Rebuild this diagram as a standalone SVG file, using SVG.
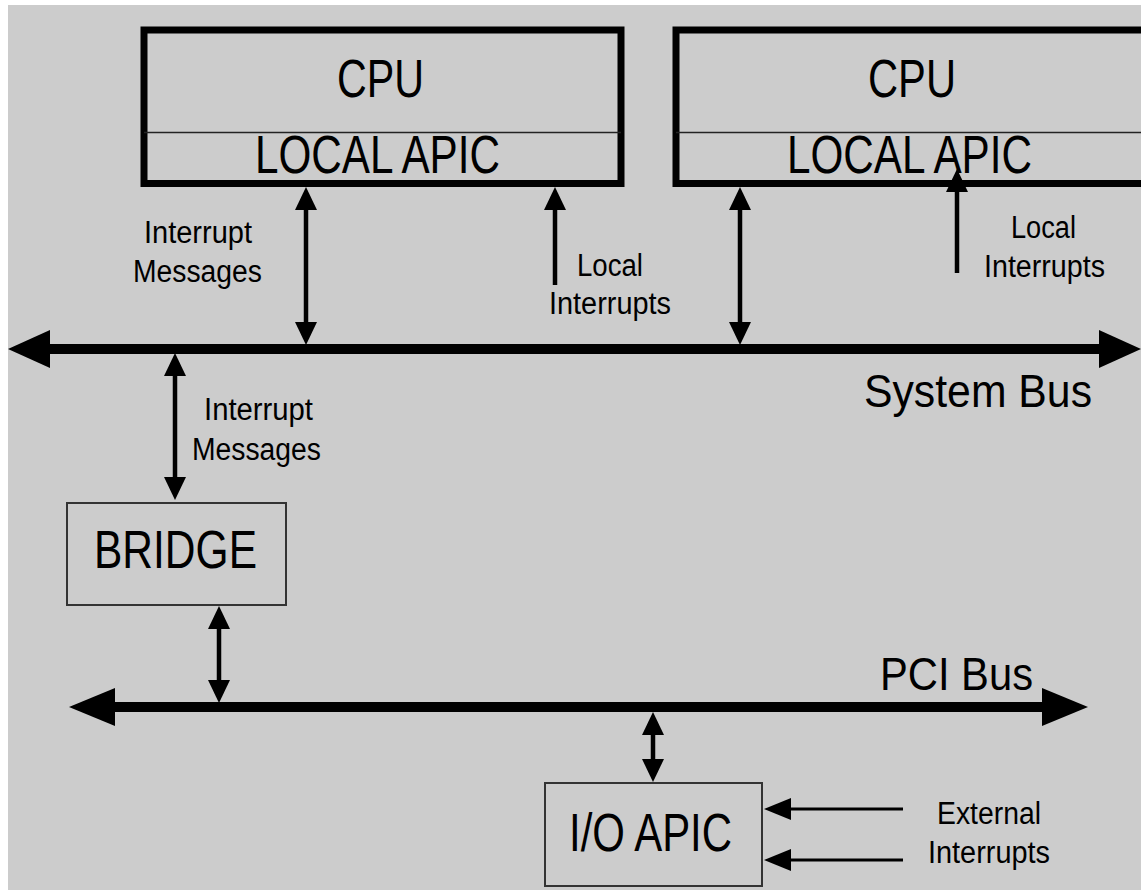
<svg xmlns="http://www.w3.org/2000/svg" width="1141" height="890" viewBox="0 0 1141 890">
<style>
.big{font-family:"Liberation Sans",Arial,sans-serif;font-size:53px;fill:#000}
.lbl{font-family:"Liberation Sans",Arial,sans-serif;font-size:31px;fill:#000}
.bus{font-family:"Liberation Sans",Arial,sans-serif;font-size:47px;fill:#000}
.cpu{fill:none;stroke:#000;stroke-width:7}
.sep{stroke:#222;stroke-width:1.6}
.box{fill:none;stroke:#333;stroke-width:2}
.busline{stroke:#000;stroke-width:10;fill:none}
.arr{stroke:#000;stroke-width:4.5;fill:none}
.ext{stroke:#000;stroke-width:3;fill:none}
</style>
<defs>
<marker id="ah" markerUnits="userSpaceOnUse" viewBox="0 -11 23 22" refX="0" refY="0" markerWidth="23" markerHeight="22" orient="auto-start-reverse"><path d="M0,-11 L23,0 L0,11 z" fill="#000"/></marker>
<marker id="ahx" markerUnits="userSpaceOnUse" viewBox="0 -11 27 22" refX="0" refY="0" markerWidth="27" markerHeight="22" orient="auto-start-reverse"><path d="M0,-11 L27,0 L0,11 z" fill="#000"/></marker>
<marker id="bh" markerUnits="userSpaceOnUse" viewBox="0 -19 42 38" refX="0" refY="0" markerWidth="42" markerHeight="38" orient="auto-start-reverse"><path d="M0,-19 L42,0 L0,19 z" fill="#000"/></marker>
<marker id="ph" markerUnits="userSpaceOnUse" viewBox="0 -19 46 38" refX="0" refY="0" markerWidth="46" markerHeight="38" orient="auto-start-reverse"><path d="M0,-19 L46,0 L0,19 z" fill="#000"/></marker>
</defs>
<rect x="0" y="0" width="1141" height="890" fill="#fff"/>
<rect x="8" y="5" width="1133" height="885" fill="#cccccc"/>

<g id="cpu1">
<rect class="cpu" x="144" y="30" width="477" height="153.5"/>
<line class="sep" x1="144" y1="132.5" x2="621" y2="132.5"/>
<text class="big" x="337" y="97" textLength="87" lengthAdjust="spacingAndGlyphs">CPU</text>
<text class="big" x="255" y="173" textLength="245" lengthAdjust="spacingAndGlyphs">LOCAL APIC</text>
</g>

<g id="cpu2">
<rect class="cpu" x="676" y="30" width="600" height="153.5"/>
<line class="sep" x1="676" y1="132.5" x2="1141" y2="132.5"/>
<text class="big" x="868" y="97" textLength="88" lengthAdjust="spacingAndGlyphs">CPU</text>
<text class="big" x="787" y="173" textLength="245" lengthAdjust="spacingAndGlyphs">LOCAL APIC</text>
</g>

<g id="bridge">
<rect class="box" x="67" y="503" width="219" height="102"/>
<text class="big" x="94" y="568" textLength="163" lengthAdjust="spacingAndGlyphs">BRIDGE</text>
</g>

<g id="ioapic">
<rect class="box" x="545" y="783" width="217" height="103"/>
<text class="big" x="569" y="851" textLength="163" lengthAdjust="spacingAndGlyphs">I/O APIC</text>
</g>

<g id="system-bus">
<text class="bus" x="864" y="407" textLength="228" lengthAdjust="spacingAndGlyphs">System Bus</text>
</g>
<g id="pci-bus">
<text class="bus" x="880" y="690" textLength="153" lengthAdjust="spacingAndGlyphs">PCI Bus</text>
</g>

<g id="connectors">
<line class="busline" x1="50" y1="349" x2="1099" y2="349" marker-start="url(#bh)" marker-end="url(#bh)"/>
<line class="busline" x1="115" y1="707" x2="1042" y2="707" marker-start="url(#ph)" marker-end="url(#ph)"/>
<line class="arr" x1="306" y1="210" x2="306" y2="322" marker-start="url(#ah)" marker-end="url(#ah)"/>
<line class="arr" x1="555" y1="285" x2="555" y2="210" marker-end="url(#ah)"/>
<line class="arr" x1="740" y1="210" x2="740" y2="322" marker-start="url(#ah)" marker-end="url(#ah)"/>
<line class="arr" x1="957" y1="273" x2="957" y2="192" marker-end="url(#ah)"/>
<line class="arr" x1="175" y1="376" x2="175" y2="477" marker-start="url(#ah)" marker-end="url(#ah)"/>
<line class="arr" x1="219" y1="629" x2="219" y2="680" marker-start="url(#ah)" marker-end="url(#ah)"/>
<line class="arr" x1="653" y1="735" x2="653" y2="759" marker-start="url(#ah)" marker-end="url(#ah)"/>
<line class="ext" x1="903" y1="809" x2="791" y2="809" marker-end="url(#ahx)"/>
<line class="ext" x1="903" y1="860" x2="791" y2="860" marker-end="url(#ahx)"/>
</g>

<g id="labels">
<text class="lbl" x="144" y="243" textLength="108" lengthAdjust="spacingAndGlyphs">Interrupt</text>
<text class="lbl" x="133" y="282" textLength="129" lengthAdjust="spacingAndGlyphs">Messages</text>
<text class="lbl" x="577" y="276" textLength="66" lengthAdjust="spacingAndGlyphs">Local</text>
<text class="lbl" x="549" y="314" textLength="122" lengthAdjust="spacingAndGlyphs">Interrupts</text>
<text class="lbl" x="1011" y="238" textLength="65" lengthAdjust="spacingAndGlyphs">Local</text>
<text class="lbl" x="984" y="277" textLength="121" lengthAdjust="spacingAndGlyphs">Interrupts</text>
<text class="lbl" x="204" y="420" textLength="109" lengthAdjust="spacingAndGlyphs">Interrupt</text>
<text class="lbl" x="192" y="460" textLength="129" lengthAdjust="spacingAndGlyphs">Messages</text>
<text class="lbl" x="937" y="824" textLength="104" lengthAdjust="spacingAndGlyphs">External</text>
<text class="lbl" x="928" y="863" textLength="122" lengthAdjust="spacingAndGlyphs">Interrupts</text>
</g>
</svg>
